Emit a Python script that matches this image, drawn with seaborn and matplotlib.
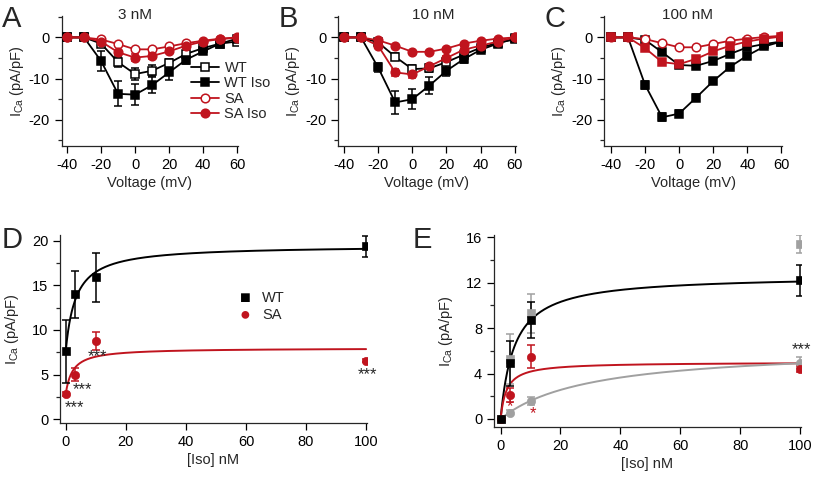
import numpy as np
import seaborn as sns
from matplotlib import pyplot as plt
from matplotlib.ticker import MultipleLocator, FixedLocator

RED = '#c0141e'
GRAY = '#a0a0a0'

# ---- I-V curves (panels A-C) ----
voltage = [-40, -30, -20, -10, 0, 10, 20, 30, 40, 50, 60]

a_wt = [0, 0, -1.5, -6.0, -8.9, -8.1, -6.2, -4.0, -2.6, -1.5, -1.0]
a_wt_err = [0, 0, 0.8, 1.2, 1.5, 1.3, 1.0, 0.7, 0.4, 0.3, 0.2]
a_wtiso = [0, 0, -5.7, -13.7, -13.9, -11.6, -8.5, -5.4, -3.4, -1.5, -0.3]
a_wtiso_err = [0, 0, 2.5, 3.0, 2.5, 2.0, 1.8, 1.0, 0.5, 0.3, 0.2]
a_sa = [0, 0, -0.5, -1.6, -2.9, -2.9, -2.2, -1.4, -0.8, -0.3, 0]
a_sa_err = [0, 0, 0.2, 0.3, 0.4, 0.4, 0.3, 0.2, 0.1, 0.1, 0.1]
a_saiso = [0, 0, -1.0, -3.6, -4.9, -4.5, -3.4, -2.0, -1.0, -0.4, -0.1]
a_saiso_err = [0, 0, 0.3, 0.6, 0.8, 0.7, 0.5, 0.3, 0.2, 0.1, 0.1]

b_wt = [0, 0, -1.2, -4.7, -7.7, -7.5, -6.0, -4.2, -2.5, -1.3, -0.5]
b_wt_err = [0, 0, 0.5, 0.8, 1.0, 1.0, 0.8, 0.5, 0.3, 0.2, 0.1]
b_wtiso = [0, 0, -7.3, -15.8, -15.0, -11.7, -8.1, -5.3, -3.0, -1.5, -0.2]
b_wtiso_err = [0, 0, 1.0, 2.8, 2.5, 2.0, 1.3, 0.8, 0.5, 0.3, 0.2]
b_sa = [0, 0, -2.0, -8.5, -9.0, -7.0, -5.0, -3.0, -2.0, -1.0, 0]
b_sa_err = [0, 0, 0.4, 0.8, 0.8, 0.6, 0.5, 0.3, 0.2, 0.1, 0.1]
b_saiso = [0, 0, -0.7, -2.0, -3.5, -3.5, -2.7, -1.5, -0.8, -0.3, 0]
b_saiso_err = [0, 0, 0.2, 0.2, 0.3, 0.3, 0.2, 0.2, 0.1, 0.1, 0.1]

c_wt = [0, 0, -0.6, -3.6, -6.7, -6.9, -5.7, -4.0, -2.4, -1.6, -1.0]
c_wt_err = [0, 0, 0.2, 0.3, 0.4, 0.4, 0.3, 0.3, 0.2, 0.2, 0.1]
c_wtiso = [0, 0, -11.5, -19.4, -18.5, -14.6, -10.6, -7.1, -4.4, -2.2, -1.0]
c_wtiso_err = [0, 0, 1.0, 1.0, 0.9, 0.8, 0.6, 0.4, 0.3, 0.2, 0.1]
c_sa = [0, 0, -0.4, -1.4, -2.4, -2.4, -1.6, -0.8, -0.3, 0.1, 0.4]
c_sa_err = [0, 0, 0.1, 0.2, 0.2, 0.2, 0.2, 0.1, 0.1, 0.1, 0.1]
c_saiso = [0, 0, -2.6, -6.0, -6.5, -5.2, -3.4, -2.0, -1.0, -0.3, 0.2]
c_saiso_err = [0, 0, 0.3, 0.4, 0.4, 0.4, 0.3, 0.2, 0.1, 0.1, 0.1]

# ---- dose response (panels D, E) ----
iso = [0, 3, 10, 100]

d_wt = [7.6, 14.0, 15.9, 19.4]
d_wt_err = [3.5, 2.6, 2.8, 1.2]
d_sa = [2.8, 5.0, 8.8, 6.55]
d_sa_err = [0.2, 0.7, 1.0, 0.2]
d_wt_fit = (7.6, 11.9, 3.35)   # y0, amplitude, K
d_sa_fit = (2.8, 5.17, 2.3)

e_wt = [0, 4.9, 8.7, 12.2]
e_wt_err = [0, 2.0, 1.6, 1.4]
e_wt2 = [0, 5.3, 9.3, 15.4]
e_wt2_err = [0, 2.2, 1.7, 0.8]
e_sa = [0, 2.1, 5.5, 4.4]
e_sa_err = [0, 0.6, 1.0, 0.3]
e_sa2 = [0, 0.55, 1.6, 4.95]
e_sa2_err = [0, 0.2, 0.35, 0.5]
e_wt_fit = (0, 12.65, 4.54)
e_sa_fit = (0, 5.0, 1.98)
e_sa2_fit = (0, 6.36, 29.7)

sns.set_style('ticks')
plt.rcParams['font.family'] = ['Liberation Sans', 'DejaVu Sans']
plt.rcParams['font.size'] = 10.5
plt.rcParams['axes.linewidth'] = 0.9
plt.rcParams['axes.unicode_minus'] = False
plt.rcParams['mathtext.fontset'] = 'custom'
plt.rcParams['mathtext.rm'] = 'Liberation Sans'

W, H = 815, 478
fig = plt.figure(figsize=(W / 100, H / 100), dpi=100)


def box(x0, x1, ytop, ybot):
    return [x0 / W, 1 - ybot / H, (x1 - x0) / W, (ybot - ytop) / H]


def style_axes(ax):
    sns.despine(ax=ax)
    ax.tick_params(which='major', direction='out', length=5, width=0.9, labelsize=10.5, colors='black')
    ax.tick_params(which='minor', direction='out', length=3, width=0.9)
    ax.set_facecolor('none')


def series(ax, x, y, err, color, marker, mfc, ms=6.2, label=None, lw=1.3):
    ax.errorbar(x, y, yerr=err, fmt='none', ecolor=color, elinewidth=1.1,
                capsize=3, capthick=1.1, zorder=2)
    sns.lineplot(x=x, y=y, ax=ax, color=color, marker=marker, markersize=ms,
                 markerfacecolor=mfc, markeredgecolor=color, markeredgewidth=1.1,
                 linewidth=lw, label=label, zorder=3, legend=False)


iv_panels = [
    (box(61.7, 238, 16, 145.7), -43.1,
     [(a_wt, a_wt_err, 'black', 's', 'white', 'WT'),
      (a_wtiso, a_wtiso_err, 'black', 's', 'black', 'WT Iso'),
      (a_sa, a_sa_err, RED, 'o', 'white', 'SA'),
      (a_saiso, a_saiso_err, RED, 'o', RED, 'SA Iso')]),
    (box(338.3, 515.7, 16, 145.7), -43.3,
     [(b_wt, b_wt_err, 'black', 's', 'white', 'WT'),
      (b_wtiso, b_wtiso_err, 'black', 's', 'black', 'WT Iso'),
      (b_sa, b_sa_err, RED, 'o', RED, 'SA'),
      (b_saiso, b_saiso_err, RED, 'o', RED, 'SA Iso')]),
    (box(604.3, 782.3, 16, 145.7), -43.9,
     [(c_wt, c_wt_err, 'black', 's', 'black', 'WT'),
      (c_wtiso, c_wtiso_err, 'black', 's', 'black', 'WT Iso'),
      (c_sa, c_sa_err, RED, 'o', 'white', 'SA'),
      (c_saiso, c_saiso_err, RED, 's', RED, 'SA Iso')]),
]

ylabel = 'I$_{\\rm Ca}$ (pA/pF)'
iv_axes = []
for pos, xmin, traces in iv_panels:
    ax = fig.add_axes(pos)
    for y, err, color, marker, mfc, label in traces:
        series(ax, voltage, y, err, color, marker, mfc, label=label)
    ax.set_xlim(xmin, 60.5)
    ax.set_ylim(-26.3, 5.2)
    ax.set_xticks([-40, -20, 0, 20, 40, 60])
    ax.set_yticks([0, -10, -20])
    ax.yaxis.set_minor_locator(FixedLocator([5, -5, -15, -25]))
    ax.set_xlabel('Voltage (mV)', labelpad=3)
    ax.set_ylabel(ylabel, labelpad=2)
    style_axes(ax)
    iv_axes.append(ax)

leg = iv_axes[0].legend(loc='center left', bbox_to_anchor=(0.7, 0.42), frameon=False,
                        handlelength=1.9, handletextpad=0.4, labelspacing=0.1,
                        fontsize=10.5, borderaxespad=0)

# ---- panel D ----
xfit = np.linspace(0, 100, 500)
axd = fig.add_axes(box(60, 366.7, 235, 423.3))
for p, color in [(d_wt_fit, 'black'), (d_sa_fit, RED)]:
    y0, amp, k = p
    sns.lineplot(x=xfit, y=y0 + amp * xfit / (xfit + k), ax=axd, color=color, linewidth=1.4)
axd.errorbar(iso, d_wt, yerr=d_wt_err, fmt='none', ecolor='black', elinewidth=1.1, capsize=3, capthick=1.1)
axd.errorbar(iso, d_sa, yerr=d_sa_err, fmt='none', ecolor=RED, elinewidth=1.1, capsize=3, capthick=1.1)
sns.scatterplot(x=iso, y=d_wt, ax=axd, marker='s', s=36, color='black', edgecolor='black', zorder=4)
sns.scatterplot(x=iso, y=d_sa, ax=axd, marker='o', s=36, color=RED, edgecolor=RED, zorder=4)
for tx, ty in [(2.8, 1.3), (5.7, 3.3), (10.6, 7.0), (100.4, 5.0)]:
    axd.text(tx, ty, '***', ha='center', va='center', fontsize=12)
axd.set_xlim(-1.9, 100.2)
axd.set_ylim(-0.48, 20.67)
axd.set_xticks([0, 20, 40, 60, 80, 100])
axd.set_yticks([0, 5, 10, 15, 20])
axd.yaxis.set_minor_locator(MultipleLocator(2.5))
axd.set_xlabel('[Iso] nM', labelpad=3)
axd.set_ylabel(ylabel, labelpad=8)
style_axes(axd)
fig.text(245 / W, 1 - 298 / H, '\u25a0', color='black', fontsize=13, ha='center', va='center')
fig.text(245 / W, 1 - 315 / H, '\u25cf', color=RED, fontsize=13, ha='center', va='center')
fig.text(262 / W, 1 - 298 / H, 'WT', fontsize=10.5, va='center')
fig.text(262 / W, 1 - 315 / H, 'SA', fontsize=10.5, va='center')

# ---- panel E ----
axe = fig.add_axes(box(494, 800.7, 235, 426.7))
for p, color in [(e_wt_fit, 'black'), (e_sa_fit, RED), (e_sa2_fit, GRAY)]:
    y0, amp, k = p
    sns.lineplot(x=xfit, y=y0 + amp * xfit / (xfit + k), ax=axe, color=color, linewidth=1.4)
for y, err, color, marker in [(e_wt2, e_wt2_err, GRAY, 's'), (e_sa2, e_sa2_err, GRAY, 'o'),
                              (e_sa, e_sa_err, RED, 'o'), (e_wt, e_wt_err, 'black', 's')]:
    axe.errorbar(iso, y, yerr=err, fmt='none', ecolor=color, elinewidth=1.1, capsize=3, capthick=1.1)
    sns.scatterplot(x=iso, y=y, ax=axe, marker=marker, s=36, color=color, edgecolor=color, zorder=4)
axe.text(100.3, 6.1, '***', ha='center', va='center', fontsize=12)
axe.text(3, 1.1, '*', ha='center', va='center', fontsize=12, color=RED)
axe.text(10.9, 0.5, '*', ha='center', va='center', fontsize=12, color=RED)
axe.set_xlim(-2.2, 100.2)
axe.set_ylim(-0.68, 16.2)
axe.set_xticks([0, 20, 40, 60, 80, 100])
axe.set_yticks([0, 4, 8, 12, 16])
axe.yaxis.set_minor_locator(MultipleLocator(2))
axe.set_xlabel('[Iso] nM', labelpad=3)
axe.set_ylabel(ylabel, labelpad=8)
style_axes(axe)

# titles and panel letters
for x, y, s in [(135, 15, '3 nM'), (433, 15, '10 nM'), (688, 15, '100 nM')]:
    fig.text(x / W, 1 - y / H, s, ha='center', va='center', fontsize=11)
for x, y, s in [(12, 19, 'A'), (288, 19, 'B'), (555, 19, 'C'), (12, 240, 'D'), (422, 240, 'E')]:
    fig.text(x / W, 1 - y / H, s, ha='center', va='center', fontsize=21)

fig.savefig('out.png', dpi=100)
plt.close(fig)
